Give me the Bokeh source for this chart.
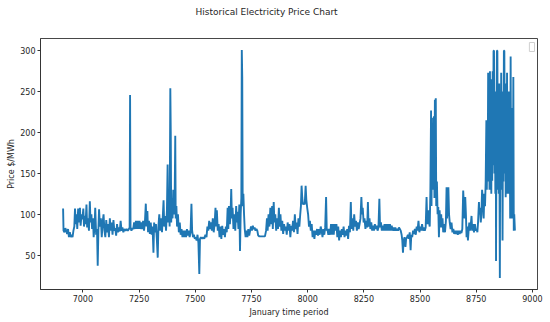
from bokeh.plotting import figure
from bokeh.models import Range1d, FixedTicker, Label, Title
from bokeh.embed import file_html
from bokeh.resources import INLINE

# ---- data ----
hours_a = [6912, 6914, 6918, 6922, 6926, 6930, 6934, 6938, 6942, 6946, 6950, 6954, 6958, 6962, 6965, 6968,
           6972, 6975, 6979, 6983, 6987, 6990, 6994, 6998, 7002, 7005, 7009, 7012, 7016, 7019, 7023, 7027,
           7031, 7034, 7038, 7041, 7045, 7048, 7052, 7055, 7059, 7063, 7066, 7069, 7072, 7076, 7080, 7084,
           7088, 7092, 7096, 7100, 7104, 7108, 7112, 7116, 7120, 7124, 7128, 7132, 7136, 7140, 7144, 7148,
           7152, 7156, 7160, 7164, 7168, 7172, 7176, 7180, 7185, 7190, 7195, 7200, 7205, 7208, 7210, 7212,
           7216, 7220, 7224, 7228, 7232, 7236, 7240, 7244, 7248, 7252, 7256, 7260, 7264, 7268, 7272, 7276,
           7280, 7283, 7287, 7290, 7294, 7298]
price_a = [107, 80, 78, 83, 80, 76, 82, 72, 78, 72, 75, 72, 80, 85, 107, 88,
           100, 82, 107, 90, 108, 86, 100, 94, 107, 85, 98, 88, 112, 84, 95, 80,
           116, 90, 100, 82, 95, 72, 86, 108, 75, 82, 37, 80, 106, 85, 95, 72,
           90, 100, 80, 72, 93, 78, 88, 72, 95, 80, 90, 75, 93, 80, 83, 74,
           88, 78, 84, 79, 92, 80, 84, 78, 82, 80, 82, 80, 82, 84, 246, 84,
           80, 83, 82, 90, 82, 92, 82, 92, 82, 92, 82, 90, 82, 92, 80, 90,
           113, 85, 104, 78, 92, 76]

hours_b = [7302, 7306, 7310, 7314, 7317, 7321, 7325, 7329, 7333, 7336, 7340, 7344, 7348, 7352, 7356, 7359,
           7362, 7366, 7370, 7374, 7377, 7380, 7383, 7386, 7389, 7391, 7393, 7396, 7399, 7402, 7405, 7408,
           7411, 7413, 7416, 7419, 7423, 7427, 7431, 7435, 7439, 7443, 7447, 7451, 7455, 7459, 7463, 7467,
           7471, 7475, 7479, 7483, 7486, 7490, 7494, 7498, 7502, 7506, 7510, 7514, 7518, 7521, 7525, 7530,
           7535, 7540, 7545, 7550, 7554, 7558, 7562, 7566, 7570, 7574, 7578, 7582, 7586, 7590, 7593, 7596,
           7600, 7604, 7608, 7612, 7616, 7620, 7624, 7628, 7632, 7636, 7640, 7644, 7647, 7650, 7654, 7657,
           7660, 7663, 7666, 7670, 7674, 7678, 7682, 7685, 7688, 7692, 7696, 7699]
price_b = [90, 75, 85, 53, 90, 78, 88, 70, 47, 85, 100, 80, 95, 78, 100, 117,
           85, 98, 80, 105, 161, 90, 110, 85, 254, 200, 90, 120, 95, 130, 100, 108,
           196, 95, 110, 85, 100, 78, 90, 75, 82, 72, 80, 72, 80, 72, 82, 74,
           80, 72, 78, 113, 80, 72, 75, 70, 72, 68, 75, 65, 27, 70, 72, 70,
           72, 70, 75, 72, 85, 80, 92, 82, 90, 80, 95, 78, 88, 108, 85, 105,
           80, 88, 72, 85, 70, 86, 75, 82, 72, 85, 78, 108, 82, 110, 88, 100,
           131, 95, 108, 82, 100, 80, 110, 90, 103, 82, 112, 55]

hours_c = [7702, 7705, 7707, 7709, 7711, 7714, 7717, 7720, 7724, 7728, 7732, 7736, 7740, 7744, 7748, 7752,
           7756, 7760, 7764, 7768, 7772, 7776, 7780, 7785, 7790, 7795, 7800, 7805, 7810, 7815, 7819, 7822,
           7826, 7830, 7834, 7838, 7842, 7845, 7849, 7852, 7856, 7860, 7864, 7868, 7872, 7875, 7879, 7883,
           7887, 7891, 7895, 7899, 7903, 7907, 7911, 7915, 7919, 7923, 7927, 7931, 7935, 7939, 7943, 7947,
           7951, 7955, 7959, 7963, 7967, 7970, 7973, 7976, 7979, 7983, 7987, 7991, 7994, 7998, 8002, 8006,
           8010, 8014, 8018, 8022, 8026, 8030, 8034, 8038, 8042, 8046, 8050, 8054, 8058, 8062, 8066, 8070,
           8074, 8078, 8082, 8085, 8088, 8092, 8096]
price_c = [100, 120, 301, 268, 110, 125, 100, 82, 72, 80, 72, 82, 74, 80, 85, 80,
           86, 82, 84, 80, 82, 80, 74, 73, 73, 73, 73, 73, 73, 80, 95, 80,
           100, 85, 108, 88, 110, 82, 115, 90, 100, 80, 95, 82, 108, 85, 100, 80,
           92, 76, 88, 80, 85, 75, 90, 80, 88, 72, 86, 80, 92, 78, 100, 82,
           90, 76, 95, 85, 100, 110, 135, 120, 112, 114, 112, 135, 118, 108, 100, 85,
           92, 80, 88, 72, 80, 70, 80, 75, 82, 74, 82, 75, 85, 80, 72, 82,
           75, 84, 121, 80, 82, 75, 82]

hours_d = [8100, 8104, 8108, 8112, 8116, 8120, 8124, 8128, 8132, 8136, 8140, 8144, 8148, 8152, 8156, 8160,
           8164, 8168, 8172, 8176, 8180, 8184, 8188, 8192, 8195, 8199, 8203, 8207, 8211, 8215, 8219, 8223,
           8227, 8231, 8235, 8239, 8242, 8245, 8249, 8253, 8257, 8261, 8265, 8268, 8271, 8275, 8279, 8283,
           8287, 8291, 8295, 8299, 8303, 8307, 8311, 8315, 8319, 8322, 8326, 8330, 8334, 8338, 8342, 8346,
           8350, 8354, 8358, 8362, 8366, 8370, 8374, 8378, 8382, 8386, 8390, 8394, 8398, 8402, 8406, 8410,
           8414, 8418, 8421, 8424, 8427, 8431, 8435, 8438, 8442, 8446, 8450, 8454, 8458, 8461, 8465, 8469,
           8473, 8477, 8481, 8485, 8489, 8493, 8497]
price_d = [75, 88, 75, 88, 75, 88, 80, 88, 72, 85, 68, 80, 72, 82, 75, 85,
           72, 80, 74, 82, 70, 86, 78, 115, 82, 95, 80, 100, 85, 92, 80, 90,
           82, 88, 95, 121, 100, 108, 90, 95, 82, 92, 84, 115, 85, 95, 82, 90,
           80, 86, 80, 88, 82, 86, 80, 84, 119, 84, 90, 80, 86, 80, 88, 80,
           88, 80, 88, 80, 88, 80, 86, 80, 84, 80, 84, 80, 82, 80, 84, 82,
           80, 75, 68, 53, 68, 72, 60, 70, 72, 75, 70, 78, 56, 75, 72, 80,
           76, 82, 75, 85, 80, 92, 78]

hours_e = [8501, 8505, 8509, 8513, 8517, 8521, 8525, 8529, 8532, 8536, 8540, 8543, 8546, 8549, 8551, 8553,
           8555, 8557, 8559, 8562, 8564, 8566, 8568, 8570, 8572, 8575, 8578, 8581, 8584, 8587, 8590, 8594,
           8597, 8600, 8603, 8607, 8611, 8615, 8618, 8620, 8623, 8626, 8629, 8632, 8636, 8640, 8644, 8648,
           8652, 8656, 8660, 8664, 8668, 8672, 8676, 8680, 8684, 8688, 8692, 8695, 8698, 8701, 8704, 8707,
           8710, 8713, 8716, 8719, 8722, 8725, 8729, 8732, 8736, 8740, 8744, 8748, 8752, 8755, 8758, 8762,
           8764, 8767, 8770, 8773, 8776, 8780, 8783, 8786, 8789, 8792, 8795, 8797, 8799, 8801, 8803, 8805,
           8807, 8809, 8811, 8813, 8815, 8817, 8819, 8821, 8823, 8825, 8827, 8829, 8831, 8833, 8835, 8837,
           8838, 8840, 8842, 8844, 8846, 8848, 8850, 8852, 8855, 8857, 8859, 8861, 8863, 8865, 8867, 8869,
           8871, 8873, 8875, 8877, 8879, 8881, 8883, 8885, 8887, 8889, 8891, 8893, 8895, 8897, 8899, 8901,
           8903, 8905, 8907, 8909, 8911, 8913, 8915, 8917, 8919, 8922]
price_e = [85, 80, 88, 80, 84, 80, 84, 121, 88, 105, 90, 85, 130, 227, 110, 218,
           140, 200, 130, 220, 120, 240, 150, 242, 110, 140, 100, 109, 72, 105, 84, 100,
           84, 95, 78, 88, 78, 92, 133, 95, 108, 133, 100, 90, 82, 90, 78, 82,
           76, 80, 76, 80, 75, 80, 76, 80, 77, 82, 129, 110, 95, 121, 100, 72,
           85, 68, 80, 90, 80, 85, 98, 80, 88, 78, 88, 80, 82, 78, 90, 115,
           100, 108, 90, 100, 130, 115, 95, 125, 110, 140, 215, 130, 183, 150, 273, 140,
           265, 130, 275, 148, 265, 125, 250, 141, 275, 160, 300, 300, 150, 232, 125, 250,
           43, 200, 300, 300, 130, 240, 125, 260, 22, 230, 130, 273, 140, 250, 68, 230,
           140, 300, 300, 150, 260, 121, 240, 130, 273, 125, 220, 130, 250, 125, 200, 95,
           293, 125, 230, 95, 200, 125, 268, 80, 100, 80]

hours = hours_a + hours_b + hours_c + hours_d + hours_e
price = price_a + price_b + price_c + price_d + price_e

x_ticks = [7000, 7250, 7500, 7750, 8000, 8250, 8500, 8750, 9000]
y_ticks = [50, 100, 150, 200, 250, 300]

# matplotlib-like 5% margins
xspan = max(hours) - min(hours)
yspan = max(price) - min(price)
x_range = Range1d(min(hours) - 0.05 * xspan, max(hours) + 0.05 * xspan)
y_range = Range1d(min(price) - 0.05 * yspan, max(price) + 0.05 * yspan)

FONT = "DejaVu Sans"
TXT = "#262626"

p = figure(width=550, height=322, output_backend="svg", toolbar_location=None,
           x_range=x_range, y_range=y_range, title=None,
           min_border_left=40, min_border_right=13, min_border_top=38, min_border_bottom=33)

# spacer between frame and title, then the title itself (stacked outward)
gap = Title(text=" ", text_font_size="2px", standoff=16)
p.add_layout(gap, "above")
main_title = Title(text="Historical Electricity Price Chart", align="left", offset=155,
                   text_font=FONT, text_font_size="9px", text_font_style="normal",
                   text_color=TXT, standoff=4)
p.add_layout(main_title, "above")

p.line(hours, price, line_color="#1f77b4", line_width=1.9)

p.xgrid.visible = False
p.ygrid.visible = False
p.outline_line_color = "#333333"
p.outline_line_width = 0.9
p.background_fill_color = "white"
p.border_fill_color = "white"

for ax in (p.xaxis[0], p.yaxis[0]):
    ax.axis_line_color = "#333333"
    ax.axis_line_width = 0.9
    ax.major_tick_in = 0
    ax.major_tick_out = 3
    ax.major_tick_line_color = "#333333"
    ax.minor_tick_line_color = None
    ax.major_label_text_font = FONT
    ax.major_label_text_font_size = "8px"
    ax.major_label_text_color = TXT
    ax.axis_label_text_font = FONT
    ax.axis_label_text_font_size = "8px"
    ax.axis_label_text_font_style = "normal"
    ax.axis_label_text_color = TXT
    ax.major_label_standoff = 2

p.xaxis[0].axis_label_standoff = 3
p.yaxis[0].axis_label_standoff = 1
p.xaxis.ticker = FixedTicker(ticks=x_ticks)
p.yaxis.ticker = FixedTicker(ticks=y_ticks)
p.xaxis.axis_label = "January time period"
p.yaxis.axis_label = "Price $/MWh"

# empty matplotlib-style legend box in the upper right
legend_box = Label(x=x_range.end, y=y_range.end, x_offset=-3, y_offset=-4, anchor="top_right",
                   text=" ", text_font_size="4px", padding=2,
                   border_line_color="#d0d0d0", border_line_width=1,
                   background_fill_color="white")
p.add_layout(legend_box)

open("out.html", "w").write(file_html(p, INLINE))
